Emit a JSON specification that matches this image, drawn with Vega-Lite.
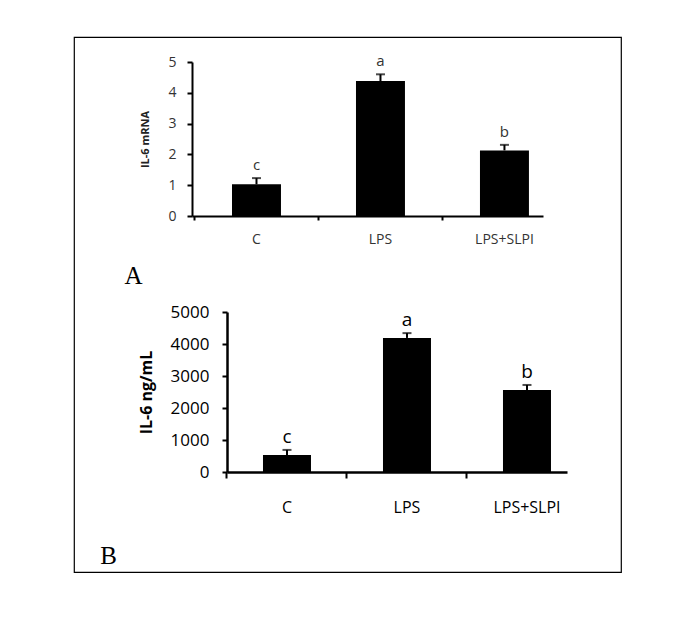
{
  "$schema": "https://vega.github.io/schema/vega-lite/v6.json",
  "width": 547,
  "height": 535,
  "autosize": {"type": "none"},
  "padding": {"left": 74, "top": 37, "right": 77, "bottom": 47},
  "background": "white",
  "config": {"view": {"stroke": "#000", "strokeWidth": 1.2}},
  "datasets": {
    "A": [
      {"group": "C", "value": 1.03, "upper": 1.23, "letter": "c"},
      {"group": "LPS", "value": 4.38, "upper": 4.6, "letter": "a"},
      {"group": "LPS+SLPI", "value": 2.13, "upper": 2.31, "letter": "b"}
    ],
    "B": [
      {"group": "C", "value": 530, "upper": 690, "letter": "c"},
      {"group": "LPS", "value": 4190, "upper": 4340, "letter": "a"},
      {"group": "LPS+SLPI", "value": 2560, "upper": 2720, "letter": "b"}
    ]
  },
  "layer": [
    {
      "data": {"name": "A"},
      "encoding": {
        "x": {
          "field": "group", "type": "nominal", "sort": ["C", "LPS", "LPS+SLPI"],
          "scale": {"range": [118, 469], "paddingInner": 0.605, "paddingOuter": 0.218, "align": 0.74},
          "axis": {
            "orient": "bottom", "offset": -356, "bandPosition": -0.765,
            "labelAngle": 0, "labelFont": "Open Sans", "labelFontSize": 14, "labelColor": "#333", "labelPadding": 12,
            "tickSize": 4, "tickWidth": 2, "tickColor": "#000", "domainColor": "#000", "domainWidth": 2, "grid": false,
            "title": "A", "titleFont": "Liberation Serif", "titleFontSize": 25, "titleFontWeight": "normal", "titleColor": "#000",
            "titleX": 59, "titleY": 67, "titleAlign": "center", "titleBaseline": "alphabetic", "titleAngle": 0
          }
        }
      },
      "layer": [
        {
          "mark": {"type": "bar", "color": "#000"},
          "encoding": {
            "y": {
              "field": "value", "type": "quantitative",
              "scale": {"domain": [0, 5], "range": [179, 25], "nice": false},
              "axis": {
                "orient": "left", "offset": -118, "values": [0, 1, 2, 3, 4, 5], "format": "d", "grid": false,
                "labelFont": "Open Sans", "labelFontSize": 14, "labelColor": "#333", "labelPadding": 11,
                "tickSize": 5, "tickWidth": 2, "tickColor": "#000", "domainColor": "#000", "domainWidth": 2,
                "title": "IL-6 mRNA", "titleFont": "Open Sans", "titleFontSize": 11, "titleFontWeight": "bold", "titleColor": "#222", "titlePadding": 17
              }
            }
          }
        },
        {
          "mark": {"type": "rule", "color": "#000", "strokeWidth": 2},
          "encoding": {"y": {"field": "value", "type": "quantitative", "title": "IL-6 mRNA"}, "y2": {"field": "upper"}}
        },
        {
          "mark": {"type": "tick", "color": "#000", "size": 9, "thickness": 2, "orient": "horizontal"},
          "encoding": {"y": {"field": "upper", "type": "quantitative", "title": "IL-6 mRNA"}}
        },
        {
          "mark": {"type": "text", "font": "Open Sans", "fontSize": 15, "color": "#333", "baseline": "alphabetic", "dy": -8},
          "encoding": {"y": {"field": "upper", "type": "quantitative", "title": "IL-6 mRNA"}, "text": {"field": "letter"}}
        }
      ]
    },
    {
      "data": {"name": "B"},
      "encoding": {
        "x": {
          "field": "group", "type": "nominal", "sort": ["C", "LPS", "LPS+SLPI"],
          "scale": {"range": [153, 493], "paddingInner": 0.6, "paddingOuter": 0.2167, "align": 0.692},
          "axis": {
            "orient": "bottom", "offset": -100, "bandPosition": -0.75,
            "labelAngle": 0, "labelFont": "Open Sans", "labelFontSize": 16, "labelColor": "#000", "labelPadding": 21,
            "tickSize": 6, "tickWidth": 2, "tickColor": "#000", "domainColor": "#000", "domainWidth": 2.5, "grid": false,
            "title": "B", "titleFont": "Liberation Serif", "titleFontSize": 25, "titleFontWeight": "normal", "titleColor": "#000",
            "titleX": 34, "titleY": 91, "titleAlign": "center", "titleBaseline": "alphabetic", "titleAngle": 0
          }
        }
      },
      "layer": [
        {
          "mark": {"type": "bar", "color": "#000"},
          "encoding": {
            "y": {
              "field": "value", "type": "quantitative",
              "scale": {"domain": [0, 5000], "range": [435, 275], "nice": false},
              "axis": {
                "orient": "left", "offset": -153, "values": [0, 1000, 2000, 3000, 4000, 5000], "format": "d", "grid": false,
                "labelFont": "Open Sans", "labelFontSize": 17, "labelColor": "#000", "labelPadding": 13,
                "tickSize": 5, "tickWidth": 2, "tickColor": "#000", "domainColor": "#000", "domainWidth": 2.5,
                "title": "IL-6 ng/mL", "titleFont": "Open Sans", "titleFontSize": 16, "titleFontWeight": "bold", "titleColor": "#000", "titlePadding": 16
              }
            }
          }
        },
        {
          "mark": {"type": "rule", "color": "#000", "strokeWidth": 2},
          "encoding": {"y": {"field": "value", "type": "quantitative", "title": "IL-6 ng/mL"}, "y2": {"field": "upper"}}
        },
        {
          "mark": {"type": "tick", "color": "#000", "size": 9, "thickness": 2, "orient": "horizontal"},
          "encoding": {"y": {"field": "upper", "type": "quantitative", "title": "IL-6 ng/mL"}}
        },
        {
          "mark": {"type": "text", "font": "Open Sans", "fontSize": 19, "color": "#000", "baseline": "alphabetic", "dy": -7},
          "encoding": {"y": {"field": "upper", "type": "quantitative", "title": "IL-6 ng/mL"}, "text": {"field": "letter"}}
        }
      ]
    }
  ],
  "resolve": {
    "scale": {"x": "independent", "y": "independent"},
    "axis": {"x": "independent", "y": "independent"}
  }
}
